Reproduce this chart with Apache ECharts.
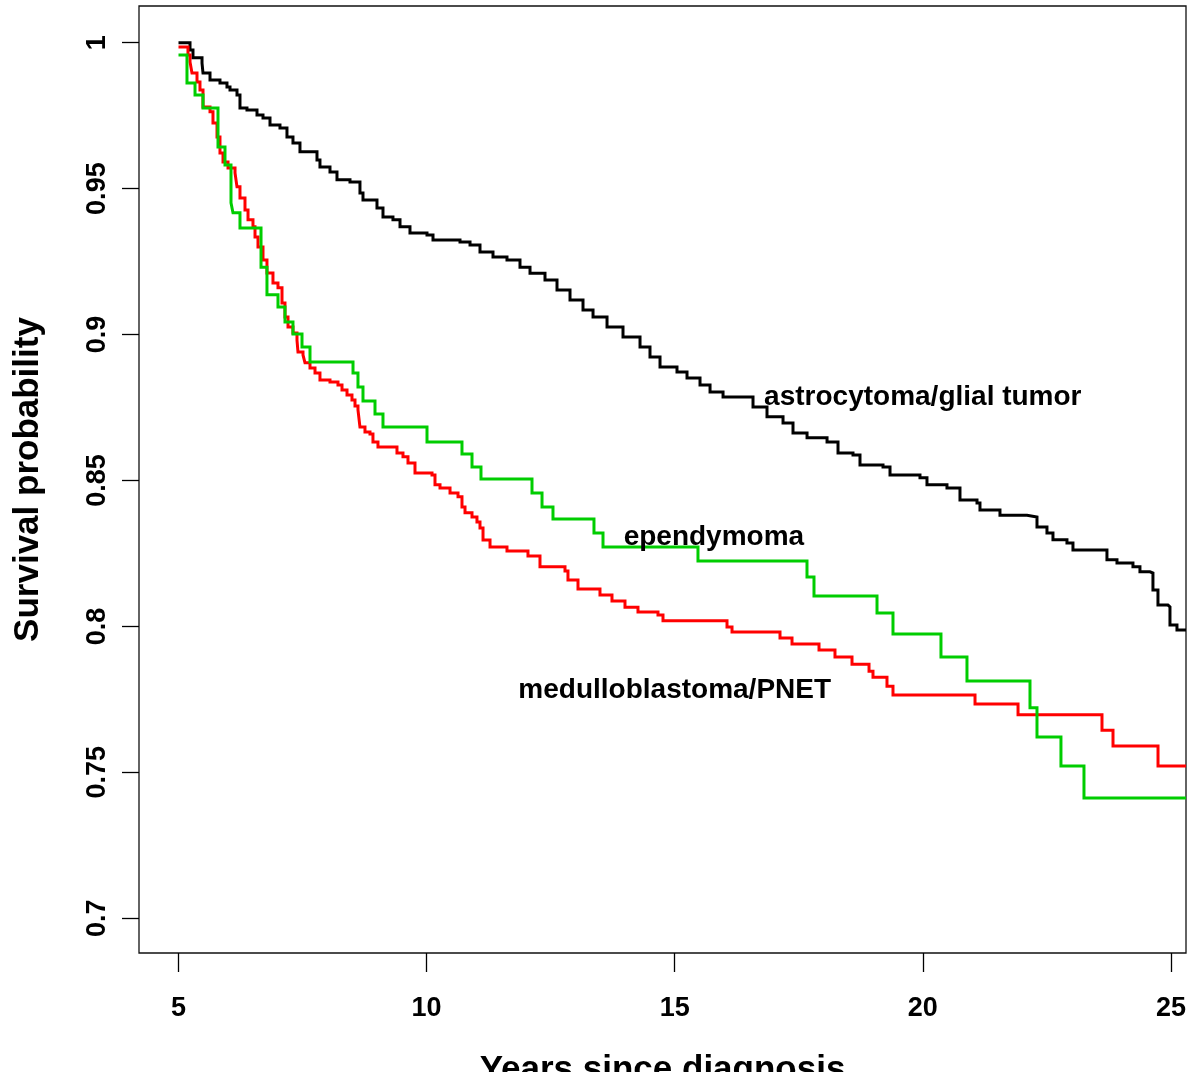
<!DOCTYPE html>
<html>
<head>
<meta charset="utf-8">
<script src="https://cdn.jsdelivr.net/npm/echarts@6/dist/echarts.min.js"></script>
<style>
html,body{margin:0;padding:0;background:#fff;}
#chart{width:1196px;height:1072px;}
</style>
</head>
<body>
<div id="chart"></div>
<script>
// Years since diagnosis (step times) and survival probabilities
const astroX = [5.0,5.232,5.292,5.474,5.494,5.635,5.836,5.977,6.038,6.179,6.239,6.380,6.582,6.703,6.844,7.045,7.186,7.307,7.448,7.791,7.851,8.053,8.194,8.456,8.657,8.718,9.000,9.121,9.322,9.464,9.665,10.008,10.129,10.673,10.875,11.076,11.338,11.620,11.882,12.084,12.386,12.628,12.890,13.152,13.354,13.636,13.958,14.301,14.502,14.704,15.046,15.248,15.510,15.712,15.974,16.578,16.860,17.183,17.384,17.667,18.070,18.291,18.593,18.734,19.198,19.339,19.943,20.084,20.487,20.749,21.092,21.152,21.555,22.100,22.301,22.502,22.623,22.905,23.026,23.711,23.913,24.235,24.376,24.578,24.638,24.739,24.940,24.981,25.122,25.304];
const astroS = [1.0,0.9975,0.9948,0.9930,0.9896,0.9872,0.9862,0.9848,0.9838,0.9821,0.9776,0.9769,0.9752,0.9742,0.9718,0.9708,0.9677,0.9656,0.9626,0.9598,0.9574,0.9557,0.9530,0.9523,0.9485,0.9461,0.9434,0.9403,0.9393,0.9369,0.9348,0.9341,0.9324,0.9317,0.9307,0.9283,0.9266,0.9255,0.9231,0.9210,0.9187,0.9153,0.9118,0.9084,0.9060,0.9026,0.8992,0.8957,0.8923,0.8889,0.8872,0.8851,0.8827,0.8803,0.8786,0.8752,0.8718,0.8697,0.8663,0.8646,0.8632,0.8594,0.8587,0.8553,0.8546,0.8519,0.8509,0.8485,0.8474,0.8433,0.8423,0.8399,0.8381,0.8375,0.8341,0.8320,0.8297,0.8286,0.8262,0.8228,0.8217,0.8204,0.8187,0.8183,0.8125,0.8073,0.8067,0.8005,0.7988,0.7988];

const medulloX = [5.0,5.191,5.232,5.272,5.373,5.433,5.494,5.635,5.695,5.776,5.836,5.897,5.998,6.139,6.179,6.239,6.340,6.401,6.501,6.542,6.602,6.703,6.783,6.904,7.005,7.086,7.146,7.207,7.307,7.388,7.408,7.509,7.549,7.650,7.751,7.851,8.053,8.214,8.295,8.396,8.496,8.557,8.617,8.657,8.758,8.859,8.919,9.020,9.403,9.524,9.625,9.766,10.109,10.169,10.270,10.472,10.633,10.713,10.774,10.915,11.015,11.076,11.137,11.278,11.620,12.043,12.285,12.789,12.849,13.051,13.494,13.736,13.998,14.260,14.663,14.764,16.054,16.155,17.122,17.364,17.908,18.230,18.573,18.916,18.996,19.278,19.399,21.052,21.919,23.611,23.833,24.740,25.304];
const medulloS = [0.9985,0.9958,0.9934,0.9896,0.9865,0.9838,0.9780,0.9763,0.9725,0.9677,0.9622,0.9591,0.9571,0.9554,0.9506,0.9468,0.9427,0.9393,0.9369,0.9334,0.9300,0.9255,0.9211,0.9177,0.9160,0.9108,0.9060,0.9026,0.9005,0.8981,0.8940,0.8930,0.8903,0.8885,0.8868,0.8844,0.8837,0.8827,0.8810,0.8793,0.8776,0.8755,0.8742,0.8683,0.8666,0.8659,0.8632,0.8615,0.8594,0.8581,0.8560,0.8526,0.8519,0.8485,0.8474,0.8457,0.8444,0.8409,0.8389,0.8375,0.8358,0.8337,0.8296,0.8272,0.8258,0.8241,0.8204,0.8190,0.8159,0.8128,0.8108,0.8087,0.8066,0.8049,0.8039,0.8019,0.7998,0.7981,0.7960,0.7940,0.7919,0.7895,0.7870,0.7846,0.7826,0.7795,0.7765,0.7734,0.7697,0.7644,0.7590,0.7522,0.7522];

const ependX = [5.0,5.171,5.333,5.494,5.796,5.937,6.058,6.098,6.239,6.663,6.783,7.005,7.146,7.307,7.489,7.650,8.517,8.617,8.718,8.960,9.121,10.008,10.713,10.915,11.096,12.124,12.326,12.547,13.373,13.555,15.469,17.666,17.807,19.077,19.399,20.366,20.890,22.160,22.301,22.784,23.248,25.304];
const ependS = [0.9958,0.9862,0.9821,0.9776,0.9643,0.9581,0.9451,0.9417,0.9365,0.9231,0.9136,0.9094,0.9043,0.9002,0.8957,0.8906,0.8868,0.8820,0.8772,0.8728,0.8683,0.8632,0.8591,0.8546,0.8505,0.8457,0.8409,0.8368,0.8320,0.8272,0.8224,0.8169,0.8104,0.8046,0.7974,0.7895,0.7813,0.7721,0.7621,0.7522,0.7412,0.7412];

const xTicks = [5, 10, 15, 20, 25];
const yTicks = [0.7, 0.75, 0.8, 0.85, 0.9, 0.95, 1];

const curveNames = ['astrocytoma/glial tumor', 'medulloblastoma/PNET', 'ependymoma'];
const curveColors = ['#000000', '#FF0000', '#00CD00'];
const labelNames = ['astrocytoma/glial tumor', 'ependymoma', 'medulloblastoma/PNET'];
const labelX = [20.0, 15.79, 15.0];
const labelY = [0.8786, 0.8304, 0.7782];

const FONT = '"Liberation Sans", Arial, Helvetica, sans-serif';
function pairs(xs, ys) { return xs.map((x, i) => [x, ys[i]]); }
const curves = [pairs(astroX, astroS), pairs(medulloX, medulloS), pairs(ependX, ependS)];

const chart = echarts.init(document.getElementById('chart'), null, {renderer: 'canvas'});
chart.setOption({
  animation: false,
  backgroundColor: '#ffffff',
  grid: {left: 139, top: 6, width: 1047, height: 947, show: true, borderColor: '#111', borderWidth: 1.3, backgroundColor: 'transparent', containLabel: false, outerBoundsMode: 'none'},
  xAxis: {
    type: 'value', min: 4.204, max: 25.304,
    name: 'Years since diagnosis', nameLocation: 'middle', nameGap: 100,
    nameTextStyle: {fontFamily: FONT, fontWeight: 'bold', fontSize: 35, color: '#000'},
    axisLine: {show: false},
    splitLine: {show: false},
    axisTick: {show: true, customValues: xTicks, length: 19, lineStyle: {color: '#000', width: 1.3}},
    axisLabel: {customValues: xTicks, margin: 42, fontFamily: FONT, fontWeight: 'bold', fontSize: 27, color: '#000', formatter: v => String(v)}
  },
  yAxis: {
    type: 'value', min: 0.6881, max: 1.01257,
    name: 'Survival probability', nameLocation: 'middle', nameGap: 93, nameRotate: 90,
    nameTextStyle: {fontFamily: FONT, fontWeight: 'bold', fontSize: 35, color: '#000'},
    axisLine: {show: false},
    splitLine: {show: false},
    axisTick: {show: true, customValues: yTicks, length: 17, lineStyle: {color: '#000', width: 1.3}},
    axisLabel: {customValues: yTicks, rotate: 90, margin: 28, fontFamily: FONT, fontWeight: 'bold', fontSize: 27, color: '#000', formatter: v => String(+v.toFixed(2))}
  },
  series: curves.map((d, i) => ({
    name: curveNames[i], type: 'line', step: 'end', data: d, showSymbol: false, symbol: 'none',
    lineStyle: {color: curveColors[i], width: 3, join: 'miter'}, silent: true, z: 2 + i
  })).concat([{
    name: 'labels', type: 'scatter', symbolSize: 0, silent: true, z: 10,
    itemStyle: {color: '#000', opacity: 1},
    data: labelNames.map((n, i) => ({name: n, value: [labelX[i], labelY[i]]})),
    label: {show: true, position: 'inside', formatter: p => p.name, fontFamily: FONT, fontWeight: 'bold', fontSize: 28, color: '#000', textBorderWidth: 0, opacity: 1}
  }])
});
</script>
</body>
</html>
